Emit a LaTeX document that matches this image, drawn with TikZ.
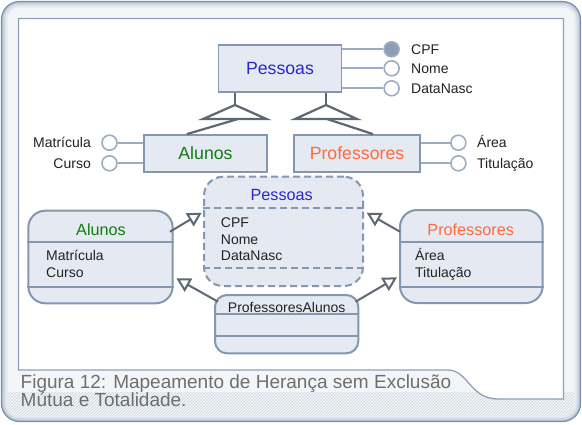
\documentclass[tikz,border=0pt]{standalone}
\usepackage{fontspec}
\setmainfont{Liberation Sans}
\usetikzlibrary{arrows.meta,calc,patterns}
\definecolor{boxfill}{HTML}{E5EAF2}
\definecolor{boxdraw}{HTML}{8597AF}
\definecolor{darkline}{HTML}{5E6873}
\definecolor{attrline}{HTML}{9CADC2}
\definecolor{attrfill}{HTML}{8E9FB5}
\definecolor{pblue}{HTML}{2A28C9}
\definecolor{agreen}{HTML}{137A13}
\definecolor{porange}{HTML}{FF6A3D}
\definecolor{txt}{HTML}{222222}
\definecolor{captxt}{HTML}{6E6E6E}
\definecolor{framedraw}{HTML}{7C8FA8}
\definecolor{frameA}{HTML}{B9C6D6}
\definecolor{frameB}{HTML}{D3DCE6}
\definecolor{frameC}{HTML}{E6EBF1}
\definecolor{frameD}{HTML}{F3F6F9}
\definecolor{hatchc}{HTML}{C9D2DD}
\definecolor{paneldraw}{HTML}{8DA0B8}
\begin{document}
\begin{tikzpicture}[x=1pt,y=-1pt,
  erbox/.style={draw=boxdraw, fill=boxfill, line width=1.8pt, inner sep=0pt},
  umlbox/.style={draw=boxdraw, fill=boxfill, line width=2pt, rounded corners=17pt, inner sep=0pt},
  sepline/.style={draw=boxdraw, line width=2pt},
  attrc/.style={circle, draw=attrline, fill=white, line width=1.6pt, minimum size=15pt, inner sep=0pt},
  keyattr/.style={attrc, fill=attrfill},
  attrlink/.style={draw=attrline, line width=2pt},
  isa/.style={draw=darkline, line width=2.2pt},
  gen/.style={draw=darkline, line width=2pt, -{Triangle[length=14pt,width=15pt,fill=white]}},
  lbl/.style={font=\fontsize{14}{16}\selectfont, text=txt, inner sep=0pt},
  ertitle/.style={font=\fontsize{17.7}{20}\selectfont},
  umltitle/.style={font=\fontsize{16.2}{19}\selectfont, inner sep=0pt},
  capt/.style={font=\fontsize{19}{18}\selectfont, text=captxt, inner sep=0pt, anchor=base west}
]
\useasboundingbox (0,0) rectangle (582,424);
% frame
\fill[frameA, rounded corners=18pt] (1.5,1.5) rectangle (580.5,421.5);
\fill[frameB, rounded corners=16pt] (3.5,3.5) rectangle (578.5,419.5);
\fill[frameC, rounded corners=14pt] (5.5,5.5) rectangle (576.5,417.5);
\fill[frameD, rounded corners=12pt] (7.5,7.5) rectangle (574.5,415.5);
\begin{scope}
  \clip[rounded corners=12pt] (7.5,7.5) rectangle (574.5,415.5);
  \fill[pattern=north east lines, pattern color=hatchc] (7.5,392) rectangle (574.5,416);
\end{scope}
\draw[framedraw, line width=1.2pt, rounded corners=18pt] (1.5,1.5) rectangle (580.5,421.5);
% inner panel
\draw[paneldraw, fill=white, line width=1.3pt] (18.5,18.5) -- (563.5,18.5) -- (563.5,399)
  -- (498,399) .. controls (470,399) and (468,370) .. (448,370) -- (18.5,370) -- cycle;

% ER part
\node[erbox, minimum width=123pt, minimum height=47pt, ertitle, text=pblue] (pes) at (280,68.5) {Pessoas};
\node[erbox, minimum width=123.6pt, minimum height=37pt, ertitle, text=agreen] (alu) at (205.5,153.5) {Alunos};
\node[erbox, minimum width=126pt, minimum height=37pt, ertitle, text=porange] (pro) at (357,153.5) {Professores};

\node[keyattr] (acpf) at (391.6,49.3) {};
\node[attrc] (anome) at (391.6,68.3) {};
\node[attrc] (adata) at (391.6,88.3) {};
\draw[attrlink] (pes.east |- acpf) -- (acpf);
\draw[attrlink] (pes.east |- anome) -- (anome);
\draw[attrlink] (pes.east |- adata) -- (adata);
\node[lbl, anchor=base west] (lcpf) at (411,54) {CPF};
\node[lbl, anchor=base west] (lnome) at (411,73.3) {Nome};
\node[lbl, anchor=base west] (ldata) at (411,93.3) {DataNasc};

\node[attrc] (amat) at (109.5,142.7) {};
\node[attrc] (acur) at (109.5,163.3) {};
\draw[attrlink] (amat) -- (amat -| alu.west);
\draw[attrlink] (acur) -- (acur -| alu.west);
\node[lbl, anchor=base east] (lmat) at (91,147.7) {Matrícula};
\node[lbl, anchor=base east] (lcur) at (91,168.3) {Curso};

\node[attrc] (aarea) at (458.4,142.7) {};
\node[attrc] (atit) at (458.4,163.3) {};
\draw[attrlink] (pro.east |- aarea) -- (aarea);
\draw[attrlink] (pro.east |- atit) -- (atit);
\node[lbl, anchor=base west] (larea) at (477,147.7) {Área};
\node[lbl, anchor=base west] (ltit) at (477,168.3) {Titulação};

% ISA triangles
\coordinate (t1) at (235,105);
\coordinate (t1l) at (203,119);
\coordinate (t1r) at (266.5,119);
\coordinate (t1m) at (238,119);
\coordinate (t2) at (326,105);
\coordinate (t2l) at (295,119);
\coordinate (t2r) at (357,119);
\coordinate (t2m) at (327,119);
\draw[isa] (t1 |- pes.south) -- (t1);
\draw[isa] (t1) -- (t1l) -- (t1r) -- cycle;
\draw[isa] (t1m) -- ($(alu.north west)+(44,0)$);
\draw[isa] (t2 |- pes.south) -- (t2);
\draw[isa] (t2) -- (t2l) -- (t2r) -- cycle;
\draw[isa] (t2m) -- ($(pro.north west)+(80,0)$);

% UML part
\node[umlbox, dashed, dash pattern=on 7pt off 4pt, rounded corners=19pt, minimum width=159pt, minimum height=109.3pt] (pesuml) at (283.5,231.35) {};
\draw[sepline, dash pattern=on 7pt off 4pt] ($(pesuml.north west)+(0,32.3)$) -- ($(pesuml.north east)+(0,32.3)$);
\draw[sepline, dash pattern=on 7pt off 4pt] ($(pesuml.south west)+(0,-19.3)$) -- ($(pesuml.south east)+(0,-19.3)$);
\node[umltitle, anchor=base, text=pblue] (pesumlt) at (281.7,200) {Pessoas};
\node[lbl, anchor=base west] (pu1) at (220.7,227.3) {CPF};
\node[lbl, anchor=base west] (pu2) at (220.7,244) {Nome};
\node[lbl, anchor=base west] (pu3) at (220.7,260.7) {DataNasc};

\node[umlbox, minimum width=144.4pt, minimum height=92.6pt] (aluml) at (100.5,257) {};
\draw[sepline] ($(aluml.north west)+(0,32)$) -- ($(aluml.north east)+(0,32)$);
\draw[sepline] ($(aluml.south west)+(0,-17.6)$) -- ($(aluml.south east)+(0,-17.6)$);
\node[umltitle, anchor=base, text=agreen] (alumlt) at (101,235) {Alunos};
\node[lbl, anchor=base west] (au1) at (46,260.7) {Matrícula};
\node[lbl, anchor=base west] (au2) at (46,277.3) {Curso};

\node[umlbox, minimum width=142.7pt, minimum height=93pt] (prouml) at (471.35,256.5) {};
\draw[sepline] ($(prouml.north west)+(0,33.3)$) -- ($(prouml.north east)+(0,33.3)$);
\draw[sepline] ($(prouml.south west)+(0,-17)$) -- ($(prouml.south east)+(0,-17)$);
\node[umltitle, anchor=base, text=porange] (proumlt) at (470.7,235) {Professores};
\node[lbl, anchor=base west] (ru1) at (415,260.7) {Área};
\node[lbl, anchor=base west] (ru2) at (415,277.3) {Titulação};

\node[umlbox, rounded corners=12pt, minimum width=143.3pt, minimum height=58.3pt] (pa) at (286.65,324.15) {};
\draw[sepline] ($(pa.north west)+(0,20)$) -- ($(pa.north east)+(0,20)$);
\draw[sepline] ($(pa.south west)+(0,-18.3)$) -- ($(pa.south east)+(0,-18.3)$);
\node[lbl, anchor=base] (pat) at (286.7,312.7) {ProfessoresAlunos};

% generalization arrows
\coordinate (g1s) at (170,231.7);
\coordinate (g1e) at (201.7,212.7);
\coordinate (g2s) at (400,231.7);
\coordinate (g2e) at (366.7,212.7);
\coordinate (g3s) at (218,301.7);
\coordinate (g3e) at (176.3,278.3);
\coordinate (g4s) at (355.6,301.7);
\coordinate (g4e) at (397,277.3);
\draw[gen] (g1s) -- (g1e);
\draw[gen] (g2s) -- (g2e);
\draw[gen] (g3s) -- (g3e);
\draw[gen] (g4s) -- (g4e);

% caption
\node[capt] (cap1) at (20.5,388.5) {Figura 12: Mapeamento de Herança sem Exclusão};
\node[capt] (cap2) at (20.5,406.5) {Mútua e Totalidade.};
\end{tikzpicture}
\end{document}
